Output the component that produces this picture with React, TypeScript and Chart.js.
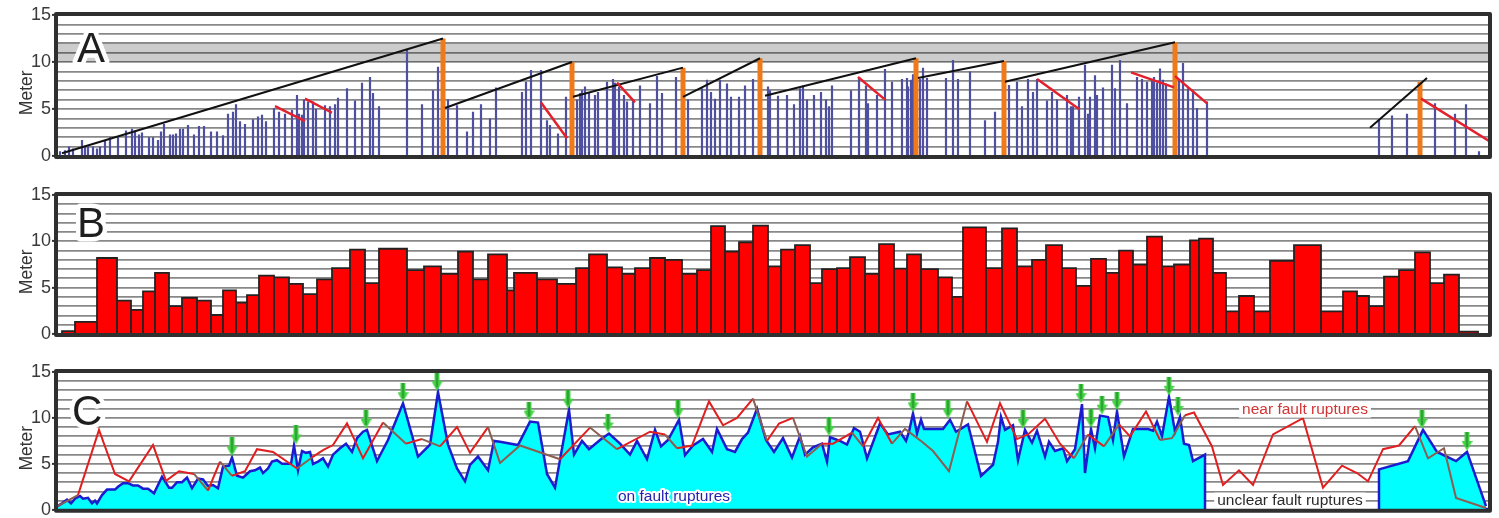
import React, { useEffect, useRef } from "react";
import { Chart, registerables } from "chart.js";
Chart.register(...registerables);

const FONT = 'Arial, "Liberation Sans", Helvetica, sans-serif';
const X_MIN = 57;
const X_MAX = 1489;

// ---------- Panel A ----------
const slipX = [60,65,69,73,82,85,88,93,97,100,105,110,118,126,132,135,139,142,149,153,158,161,164,170,173,176,180,183,188,194,199,204,211,217,223,228,233,236,240,245,253,258,262,266,274,279,285,292,297,299,302,304,308,313,316,325,330,335,338,347,355,362,370,373,379,407,422,433,438,448,457,467,473,481,490,496,
522,526,531,541,547,550,558,566,577,580,582,585,589,595,598,607,613,615,619,624,627,633,640,650,657,662,676,688,702,707,711,715,720,727,731,739,745,753,768,770,778,787,794,800,803,807,814,821,826,829,832,851,859,866,868,877,885,892,902,907,908,911,913,920,923,927,946,953,958,970,985,995,
1009,1017,1022,1028,1033,1037,1047,1052,1057,1067,1071,1073,1079,1085,1088,1090,1095,1097,1103,1112,1115,1120,1127,1137,1142,1147,1152,1154,1157,1160,1163,1166,1179,1183,1188,1193,1197,1207,1379,1392,1407,1435,1455,1466,1479];
const slipY = [0.5,0.6,1.0,0.8,1.7,1.1,1.0,1.0,0.8,1.0,1.7,2.0,2.0,2.7,2.9,2.7,2.3,2.5,2.0,2.0,1.7,2.6,3.4,2.3,2.3,2.4,2.9,2.9,3.3,2.3,3.2,3.2,2.6,2.6,2.2,4.5,4.7,5.5,3.7,3.4,3.9,4.2,4.4,3.7,5.1,4.7,4.5,4.9,6.5,4.5,4.4,6.0,5.8,5.8,5.0,5.4,5.3,5.5,6.2,7.2,5.9,7.8,8.4,6.7,5.3,11.3,5.5,7.0,9.5,6.0,5.4,2.6,4.7,5.5,4.0,7.3,
6.8,7.9,9.15,9.15,3.8,3.3,2.4,6.3,6.0,6.7,7.0,7.4,6.7,6.5,6.8,7.9,8.2,7.8,7.4,6.5,5.8,6.0,7.5,5.6,8.5,6.7,8.4,6.0,7.2,8.1,6.8,6.1,8.1,7.7,6.3,6.3,7.5,8.2,7.4,7.0,6.4,6.5,5.5,7.2,7.5,6.0,6.5,6.8,6.0,5.3,7.5,7.0,8.4,7.5,5.6,6.5,9.25,7.9,8.2,8.3,7.4,8.1,8.7,8.2,9.4,8.3,8.3,10.2,8.2,9.0,3.8,4.7,
7.55,7.9,5.3,8.2,6.8,8.2,5.9,6.8,6.0,6.5,5.3,5.3,6.3,9.7,4.5,6.3,8.6,6.5,7.3,9.7,7.2,10.2,5.6,8.4,8.2,7.9,8.1,8.4,7.8,9.3,8.1,7.7,8.1,9.9,7.2,7.0,5.1,5.8,3.9,4.3,4.5,5.6,4.5,5.5,0.5];

const eventX = [443, 572, 683, 760, 916, 1004, 1175, 1420];
const eventY = [12.5, 10.0, 9.4, 10.4, 10.4, 10.1, 12.1, 7.9];

const trendX0 = [62, 445, 573, 683, 765, 918, 1005, 1370];
const trendY0 = [0.3, 5.1, 6.3, 6.3, 6.4, 8.3, 7.9, 3.0];
const trendX1 = [443, 572, 683, 760, 916, 1004, 1175, 1427];
const trendY1 = [12.5, 10.0, 9.4, 10.4, 10.4, 10.1, 12.1, 8.3];

const declX0 = [275, 305, 541, 617, 858, 1037, 1131, 1175, 1421];
const declY0 = [5.3, 6.1, 5.7, 7.8, 8.4, 8.2, 8.9, 8.5, 6.1];
const declX1 = [305, 332, 567, 635, 885, 1079, 1174, 1207, 1489];
const declY1 = [3.7, 4.6, 1.9, 5.7, 6.0, 5.0, 7.3, 5.6, 1.6];

const BAND_LOW = 10;
const BAND_HIGH = 12;

// ---------- Panel B ----------
const binEdges = [62,75,97,117,131,143,155,169,182,197,211,223,236,247,259,274,289,303,317,332,350,365,379,407,424,441,458,473,488,507,514,537,557,576,589,607,622,635,650,665,682,697,711,725,739,753,768,781,795,810,822,837,850,865,879,894,907,921,938,952,963,986,1002,1017,1032,1046,1062,1076,1091,1106,1119,1133,1147,1162,1174,1190,1199,1213,1226,1239,1254,1270,1294,1321,1343,1357,1369,1384,1399,1415,1430,1444,1459,1478];
const binSlip = [0.3,1.3,8.2,3.6,2.6,4.6,6.6,3.0,3.9,3.6,2.05,4.7,3.4,4.2,6.3,6.1,5.4,4.3,5.9,7.1,9.1,5.5,9.2,6.9,7.3,6.5,8.9,5.9,8.6,4.7,6.6,5.9,5.4,7.1,8.6,7.2,6.5,7.1,8.2,8.0,6.5,6.9,11.65,8.9,9.9,11.7,7.3,9.1,9.6,5.5,7.0,7.1,8.3,6.5,9.7,7.05,8.6,7.0,6.1,4.0,11.5,7.1,11.4,7.3,8.0,9.6,7.1,5.2,8.1,6.6,9.0,7.5,10.5,7.3,7.5,10.1,10.3,6.6,2.45,4.1,2.45,7.9,9.6,2.45,4.6,4.1,3.0,6.2,6.9,8.8,5.5,6.4,0.25];

// ---------- Panel C ----------
const onFaultX = [57,62,67,71,75,80,83,88,92,95,97,102,107,115,118,123,128,133,138,143,148,154,162,165,169,172,177,182,187,192,198,203,208,213,218,223,229,232,237,243,250,255,260,263,268,272,277,282,287,291,294,298,302,306,310,313,318,323,328,333,340,346,352,357,363,367,377,388,403,418,430,438,448,457,465,470,478,488,494,500,518,530,538,547,555,569,574,582,589,600,609,620,630,637,647,655,661,668,679,685,693,703,712,717,727,735,742,748,757,766,774,783,792,800,805,813,822,827,830,840,847,854,860,867,880,888,900,906,909,913,917,921,924,943,950,956,968,981,993,998,1001,1005,1013,1018,1025,1032,1037,1045,1049,1055,1063,1067,1075,1082,1085,1091,1095,1100,1108,1113,1117,1124,1133,1148,1153,1157,1162,1169,1175,1180,1184,1189,1193,1205,1205,
1290,
1379,1379,1408,1423,1437,1456,1467,1486];
const onFaultY = [0.36,0.7,1.1,0.7,1.2,1.5,1.2,1.3,0.7,1.0,0.7,1.6,2.2,2.2,2.5,2.9,2.9,2.65,2.65,2.3,2.3,1.8,3.6,3.1,2.4,2.4,3.0,3.0,3.5,2.35,3.4,3.3,2.6,2.7,2.35,4.7,4.8,5.7,3.7,3.5,4.2,4.3,4.6,4.0,4.5,5.25,5.4,5.0,5.0,5.0,7.0,4.3,6.4,6.2,6.3,5.0,5.25,5.6,4.7,6.0,6.7,7.2,6.3,7.8,8.5,8.7,5.3,7.6,11.6,5.8,7.1,12.8,7.1,4.5,3.1,4.9,5.8,4.3,7.5,7.4,7.05,9.6,9.5,3.9,2.4,10.9,6.0,7.5,6.6,7.6,8.3,7.2,6.0,7.5,5.5,8.7,6.9,7.6,9.8,5.95,7.0,7.7,6.3,8.8,6.6,6.3,7.7,8.4,11.0,7.6,6.3,7.8,5.7,8.0,6.0,6.8,7.2,5.25,7.9,7.5,7.1,8.9,8.5,5.6,9.4,8.2,8.5,7.5,8.5,10.5,8.3,9.8,8.8,8.8,9.8,8.5,9.3,3.7,4.9,7.4,10.1,8.7,9.2,5.4,8.7,7.3,8.6,5.8,7.4,6.4,6.7,5.3,6.6,11.5,4.0,8.8,6.7,10.25,10.1,7.6,10.7,5.8,8.8,8.8,8.6,9.6,8.0,12.3,8.5,10.1,7.2,7.05,5.3,6.0,0,
null,
0,4.4,5.3,8.7,6.3,5.3,6.3,0.4];

const nearFaultX = [57,78,99,115,129,153,166,179,194,208,220,232,245,257,273,297,312,323,333,347,363,383,406,422,440,457,470,488,500,520,560,590,617,650,665,677,692,709,723,737,753,767,779,793,807,822,833,852,863,878,892,905,922,933,949,967,987,1000,1017,1028,1045,1060,1074,1088,1104,1119,1130,1146,1160,1172,1185,1194,1212,1223,1239,1253,1273,1303,1323,1342,1357,1368,1383,1399,1415,1428,1444,1456,1486];
const nearFaultY = [0.36,1.6,8.7,3.9,3.1,7.05,3.15,4.2,3.9,2.1,5.25,3.7,4.2,6.6,6.3,4.5,5.7,6.5,7.05,9.4,5.6,9.5,7.2,7.7,6.9,9.0,6.2,9.0,5.1,7.0,5.5,8.95,6.6,8.5,8.2,6.7,7.0,11.8,9.2,10.0,12.1,7.5,9.4,10.0,5.8,7.2,7.2,8.4,6.9,10.0,7.2,8.8,7.4,6.4,4.2,11.8,7.4,11.6,7.7,8.2,9.9,7.2,5.6,8.2,6.9,9.3,8.0,10.7,7.6,7.8,10.3,10.6,6.9,2.7,4.3,2.7,8.2,9.97,2.4,4.8,4.0,3.1,6.6,7.0,9.1,5.6,6.7,1.3,0.2];

const peakX = [232,296,366,403,437,529,568,608,678,829,913,948,1023,1081,1091,1102,1117,1169,1178,1422,1467];
const peakY = [5.7,7.0,8.7,11.6,12.8,9.6,10.9,8.3,9.8,7.9,10.5,9.8,8.7,11.5,8.8,10.25,10.7,12.3,10.1,8.7,6.3];

const baseX = [57, 1205, 1290, 1379, 1488];
const baseY = [0, 0, null, 0, 0];

// ---------- helpers ----------
function stems(xs: number[], ys: number[]) {
  const pts: any[] = [];
  xs.forEach((x, i) => {
    pts.push({ x, y: 0 }, { x, y: ys[i] }, { x, y: null });
  });
  return pts;
}
function segs(x0: number[], y0: number[], x1: number[], y1: number[]) {
  const pts: any[] = [];
  x0.forEach((x, i) => {
    pts.push({ x, y: y0[i] }, { x: x1[i], y: y1[i] }, { x: x1[i], y: null });
  });
  return pts;
}
function zip(xs: number[], ys: (number | null)[]) {
  return xs.map((x, i) => ({ x, y: ys[i] }));
}
function histOutline(edges: number[], vals: number[]) {
  const pts: any[] = [];
  vals.forEach((v, i) => {
    pts.push({ x: edges[i], y: 0 }, { x: edges[i], y: v }, { x: edges[i + 1], y: v }, { x: edges[i + 1], y: 0 });
  });
  return pts;
}
function onFaultAt(x: number) {
  let best = -1;
  for (let i = 0; i < onFaultX.length - 1; i++) {
    const x0 = onFaultX[i], x1 = onFaultX[i + 1];
    const y0 = onFaultY[i], y1 = onFaultY[i + 1];
    if (y0 == null || y1 == null) continue;
    if (x >= x0 && x <= x1) {
      const v = x1 === x0 ? Math.max(y0, y1) : y0 + ((y1 - y0) * (x - x0)) / (x1 - x0);
      best = Math.max(best, v);
    }
  }
  return best;
}

const panelDecor = {
  id: "panelDecor",
  afterDatasetsDraw(chart: any, _args: any, opts: any) {
    const { ctx, chartArea: a } = chart;
    const sx = chart.scales.x, sy = chart.scales.y;
    ctx.save();
    (opts.texts || []).forEach((t: any) => {
      const px = sx.getPixelForValue(t.x);
      const py = sy.getPixelForValue(t.y);
      ctx.font = `15.5px ${FONT}`;
      ctx.textAlign = "center";
      ctx.textBaseline = "middle";
      const w = ctx.measureText(t.text).width;
      if (t.box) {
        ctx.fillStyle = "#fff";
        ctx.fillRect(px - w / 2 - 3, py - 8, w + 6, 16);
      }
      if (t.halo) {
        ctx.lineJoin = "round";
        ctx.lineWidth = 4;
        ctx.strokeStyle = "#fff";
        ctx.strokeText(t.text, px, py);
      }
      ctx.fillStyle = t.color;
      ctx.fillText(t.text, px, py);
    });
    ctx.font = `42px ${FONT}`;
    ctx.textAlign = "left";
    ctx.textBaseline = "alphabetic";
    ctx.lineJoin = "round";
    ctx.lineWidth = 9;
    ctx.strokeStyle = "#fff";
    ctx.strokeText(opts.letter, opts.lx, opts.ly);
    ctx.fillStyle = "#1e1e1e";
    ctx.fillText(opts.letter, opts.lx, opts.ly);
    ctx.lineWidth = 4;
    ctx.strokeStyle = "#2f2f2f";
    ctx.strokeRect(a.left - 1, a.top - 1, a.width + 2, a.height + 2);
    ctx.restore();
  },
};

function baseOptions(padTop: number, padBottom: number, decor: any) {
  return {
    animation: false,
    responsive: false,
    maintainAspectRatio: false,
    events: [],
    layout: { padding: { left: 12, right: 10, top: padTop, bottom: padBottom } },
    elements: { point: { radius: 0 }, line: { tension: 0 } },
    plugins: { legend: { display: false }, tooltip: { enabled: false }, panelDecor: decor },
    scales: {
      x: { type: "linear", min: X_MIN, max: X_MAX, display: false },
      y: {
        min: 0,
        max: 15,
        afterFit: (s: any) => {
          s.width = 45;
        },
        border: { display: false },
        ticks: {
          stepSize: 1,
          autoSkip: false,
          padding: 1,
          color: "#3a3a3a",
          font: { family: FONT, size: 18, lineHeight: 0.8 },
          callback: (v: any) => (v % 5 === 0 ? String(v) : ""),
        },
        grid: {
          color: "#888888",
          lineWidth: 1.8,
          tickLength: 5,
          tickWidth: 2,
          tickColor: (c: any) => (c.tick && c.tick.value % 5 === 0 ? "#333" : "rgba(0,0,0,0)"),
        },
        title: {
          display: true,
          text: "Meter   ",
          color: "#333",
          font: { family: FONT, size: 17.5 },
          padding: { top: 5, bottom: 0 },
        },
      },
    },
  } as any;
}

function makeArrow() {
  const c = document.createElement("canvas");
  c.width = 11;
  c.height = 40;
  const g = c.getContext("2d")!;
  g.fillStyle = "#44d444";
  g.fillRect(3, 0, 5, 11);
  g.beginPath();
  g.moveTo(0, 9);
  g.lineTo(11, 9);
  g.lineTo(5.5, 19);
  g.closePath();
  g.fill();
  g.strokeStyle = "#1f8a2d";
  g.lineWidth = 1.5;
  g.beginPath();
  g.moveTo(5.5, 0);
  g.lineTo(5.5, 15);
  g.stroke();
  return c;
}

export default function App() {
  const refA = useRef<HTMLCanvasElement>(null);
  const refB = useRef<HTMLCanvasElement>(null);
  const refC = useRef<HTMLCanvasElement>(null);

  useEffect(() => {
    const charts: Chart[] = [];

    charts.push(
      new Chart(refA.current!, {
        type: "line",
        data: {
          datasets: [
            { data: segs(declX0, declY0, declX1, declY1), borderColor: "#e3202c", borderWidth: 2.5, spanGaps: false, fill: false },
            { data: segs(trendX0, trendY0, trendX1, trendY1), borderColor: "#111", borderWidth: 2, spanGaps: false, fill: false },
            { data: stems(eventX, eventY), borderColor: "#f07a1a", borderWidth: 5, spanGaps: false, fill: false },
            { data: stems(slipX, slipY), borderColor: "#4f4fa2", borderWidth: 2.2, spanGaps: false, fill: false },
            {
              data: [{ x: X_MIN, y: BAND_HIGH }, { x: X_MAX, y: BAND_HIGH }],
              borderWidth: 0,
              borderColor: "rgba(0,0,0,0)",
              backgroundColor: "rgba(0,0,0,0.2)",
              fill: { value: BAND_LOW },
            },
          ],
        },
        options: baseOptions(15, 16, { letter: "A", lx: 77, ly: 62 }),
        plugins: [panelDecor],
      } as any)
    );

    charts.push(
      new Chart(refB.current!, {
        type: "line",
        data: {
          datasets: [
            {
              data: histOutline(binEdges, binSlip),
              borderColor: "#222",
              borderWidth: 1.8,
              backgroundColor: "#ff0000",
              fill: "origin",
            },
          ],
        },
        options: baseOptions(21, 12, { letter: "B", lx: 77, ly: 63 }),
        plugins: [panelDecor],
      } as any)
    );

    const arrow = makeArrow();
    charts.push(
      new Chart(refC.current!, {
        type: "line",
        data: {
          datasets: [
            {
              data: zip(peakX, peakY),
              showLine: false,
              pointRadius: 5,
              pointStyle: arrow,
            },
            {
              data: zip(nearFaultX, nearFaultY),
              borderWidth: 2,
              fill: false,
              borderColor: "#e02020",
              segment: {
                borderColor: (c: any) => {
                  const mx = (c.p0.parsed.x + c.p1.parsed.x) / 2;
                  const my = (c.p0.parsed.y + c.p1.parsed.y) / 2;
                  return my < onFaultAt(mx) - 0.05 ? "#8a5e50" : "#e02020";
                },
              },
            },
            {
              data: zip(onFaultX, onFaultY),
              borderColor: "#1b1bd0",
              borderWidth: 2.5,
              backgroundColor: "#00ffff",
              fill: "origin",
              spanGaps: false,
            },
            {
              data: zip(baseX, baseY),
              borderColor: "#1b1bd0",
              borderWidth: 4,
              spanGaps: false,
              fill: false,
            },
          ],
        },
        options: baseOptions(26, 8, {
          letter: "C",
          lx: 72,
          ly: 79,
          texts: [
            { text: "on fault ruptures", x: 674, y: 1.45, color: "#2323b0", halo: true },
            { text: "near fault ruptures", x: 1305, y: 10.9, color: "#d33434", box: true },
            { text: "unclear fault ruptures", x: 1290, y: 1.0, color: "#2a2a2a", box: true },
          ],
        }),
        plugins: [panelDecor],
      } as any)
    );

    return () => charts.forEach((c) => c.destroy());
  }, []);

  const cs = (top: number): React.CSSProperties => ({ position: "absolute", left: 0, top, width: 1499, height: 172 });
  return (
    <div style={{ position: "absolute", left: 0, top: 0, width: 1499, height: 518, background: "#fff", overflow: "hidden" }}>
      <canvas ref={refA} width={1499} height={172} style={cs(0)} />
      <canvas ref={refB} width={1499} height={172} style={cs(174)} />
      <canvas ref={refC} width={1499} height={172} style={cs(346)} />
    </div>
  );
}
